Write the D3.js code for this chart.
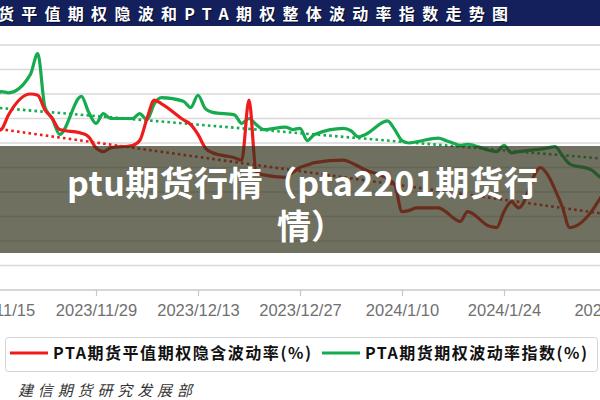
<!DOCTYPE html>
<html>
<head>
<meta charset="utf-8">
<script src="https://cdn.jsdelivr.net/npm/d3@7"></script>
<style>
  body { margin: 0; background: #fff; }
  svg { display: block; }
</style>
</head>
<body>
<div id="chart"></div>
<script>
// data (trading days)
const dates = [
  '2023-11-15', '2023-11-16', '2023-11-17', '2023-11-20', '2023-11-21', '2023-11-22',
  '2023-11-23', '2023-11-24', '2023-11-27', '2023-11-28', '2023-11-29', '2023-11-30',
  '2023-12-01', '2023-12-04', '2023-12-05', '2023-12-06', '2023-12-07', '2023-12-08',
  '2023-12-11', '2023-12-12', '2023-12-13', '2023-12-14', '2023-12-15', '2023-12-18',
  '2023-12-19', '2023-12-20', '2023-12-21', '2023-12-22', '2023-12-25', '2023-12-26',
  '2023-12-27', '2023-12-28', '2023-12-29', '2024-01-02', '2024-01-03', '2024-01-04',
  '2024-01-05', '2024-01-08', '2024-01-09', '2024-01-10', '2024-01-11', '2024-01-12',
  '2024-01-15', '2024-01-16', '2024-01-17', '2024-01-18', '2024-01-19', '2024-01-22',
  '2024-01-23', '2024-01-24', '2024-01-25', '2024-01-26', '2024-01-29', '2024-01-30',
  '2024-01-31', '2024-02-01', '2024-02-02', '2024-02-05', '2024-02-06', '2024-02-07'
]
// PTA期货平值期权隐含波动率
const ivValues = [
  22.9, 23.1, 24.3, 26.0, 25.9, 24.7, 24.0, 23.1, 22.8, 22.5, 21.6, 21.3,
  21.6, 21.8, 22.2, 24.0, 25.5, 25.2, 23.9, 23.5, 22.7, 21.6, 21.2, 20.8,
  20.6, 25.5, 19.6, 19.4, 19.2, 19.6, 20.0, 20.2, 20.4,
  20.6, 20.4, 20.1, 19.8, 19.1, 18.6, 16.4, 16.5, 16.7, 16.7, 16.4, 15.9,
  15.6, 16.4, 15.2, 15.1, 16.4, 17.2, 16.7, 20.0, 19.4, 18.2,
  16.8, 15.1, 16.4, 17.3, 18.2
]
// PTA期货期权波动率指数
const indexValues = [
  25.1, 26.2, 26.1, 27.6, 29.3, 24.9, 24.0, 22.7, 25.8, 24.5, 23.6, 24.4,
  24.0, 24.0, 24.4, 23.9, 25.2, 25.7, 25.4, 24.9, 25.9, 24.8, 24.5, 24.3,
  23.6, 24.0, 23.5, 23.1, 23.3, 23.1, 23.2, 22.2, 22.7,
  23.2, 23.0, 22.5, 22.7, 23.8, 23.1, 22.2, 22.0, 22.1, 22.4, 22.2, 22.0,
  21.8, 21.9, 21.4, 21.3, 21.8, 21.2, 21.3, 21.5, 21.6, 21.7,
  21.0, 20.3, 19.8, 19.3, 19.0
]
// linear trend lines (end points)
const trendDates = ['2023-11-15', '2024-02-07']
const ivTrend = [23.2, 16.2]
const indexTrend = [24.9, 20.7]

const xTicks = ['2023-11-15', '2023-11-29', '2023-12-13', '2023-12-27', '2024-01-10', '2024-01-24', '2024-02-07']
const yTicks = [10, 12, 14, 16, 18, 20, 22, 24, 26, 28, 30]
const seriesNames = ['PTA期货平值期权隐含波动率(%)', 'PTA期货期权波动率指数(%)']
const seriesColors = ['#ee1c1c', '#17ab50']

const W = 600
const H = 400
const parse = d3.timeParse('%Y-%m-%d')
const fmt = d3.timeFormat('%Y/%-m/%-d')

const svg = d3.select('#chart').append('svg')
  .attr('width', W)
  .attr('height', H)
  .style('font-family', '"Noto Sans CJK SC", "Liberation Sans", sans-serif')

// the plot runs off both sides of the picture
const x = d3.scaleTime()
  .domain([parse('2023-11-29'), parse('2024-02-07')])
  .range([96, 606])
const y = d3.scaleLinear()
  .domain([10, 30])
  .range([290, 45])

// gridlines
svg.append('g')
  .selectAll('line')
  .data(yTicks.slice(1))
  .join('line')
  .attr('x1', 0)
  .attr('x2', W)
  .attr('y1', d => y(d))
  .attr('y2', d => y(d))
  .attr('stroke', '#d9d9d9')
  .attr('stroke-width', 1.5)

// x axis
const xAxis = d3.axisBottom(x)
  .tickValues(xTicks.map(parse))
  .tickFormat(fmt)
  .tickSizeInner(6)
  .tickSizeOuter(0)
  .tickPadding(8)
const gx = svg.append('g')
  .attr('transform', 'translate(0,' + y(10) + ')')
  .call(xAxis)
gx.select('.domain').remove()
gx.insert('line', ':first-child')
  .attr('x1', 0)
  .attr('x2', W)
  .attr('stroke', '#c8c8c8')
  .attr('stroke-width', 1.5)
gx.selectAll('.tick line').attr('stroke', '#c8c8c8').attr('stroke-width', 1.2)
gx.selectAll('.tick text')
  .attr('fill', '#707070')
  .style('font-family', '"Liberation Sans", Arial, sans-serif')
  .style('font-size', '16.5px')

// lines
const line = d3.line()
  .x((d, i) => x(parse(dates[i])))
  .y(d => y(d))
  .curve(d3.curveMonotoneX)
const trend = d3.line()
  .x((d, i) => x(parse(trendDates[i])))
  .y(d => y(d))

svg.append('path')
  .datum(indexTrend)
  .attr('fill', 'none')
  .attr('stroke', seriesColors[1])
  .attr('stroke-width', 2.6)
  .attr('stroke-dasharray', '2.6 3.2')
  .attr('d', trend)
svg.append('path')
  .datum(ivTrend)
  .attr('fill', 'none')
  .attr('stroke', seriesColors[0])
  .attr('stroke-width', 2.6)
  .attr('stroke-dasharray', '2.6 3.2')
  .attr('d', trend)

svg.append('path')
  .datum(indexValues)
  .attr('fill', 'none')
  .attr('stroke', seriesColors[1])
  .attr('stroke-width', 3.2)
  .attr('stroke-linejoin', 'round')
  .attr('d', line)
svg.append('path')
  .datum(ivValues)
  .attr('fill', 'none')
  .attr('stroke', seriesColors[0])
  .attr('stroke-width', 3.2)
  .attr('stroke-linejoin', 'round')
  .attr('d', line)

// title bar
svg.append('rect')
  .attr('x', 0)
  .attr('y', 0)
  .attr('width', W)
  .attr('height', 26)
  .attr('fill', '#13205c')
const title = '货平值期权隐波和PTA期权整体波动率指数走势图'
svg.append('text')
  .attr('x', -2)
  .attr('y', 20)
  .attr('textLength', 510)
  .attr('fill', '#000')
  .attr('opacity', 0.6)
  .attr('transform', 'translate(1,1)')
  .style('font-size', '16px')
  .style('font-weight', 700)
  .text(title)
svg.append('text')
  .attr('x', -2)
  .attr('y', 20)
  .attr('textLength', 510)
  .attr('fill', '#fff')
  .style('font-size', '16px')
  .style('font-weight', 700)
  .text(title)

// legend
const legend = svg.append('g')
legend.append('rect')
  .attr('x', 5.5)
  .attr('y', 337.5)
  .attr('width', 592)
  .attr('height', 34)
  .attr('rx', 3)
  .attr('fill', '#fff')
  .attr('stroke', '#d4d4d4')
const legendX = [10, 322]
const legendW = [258, 222]
seriesNames.forEach((name, i) => {
  legend.append('line')
    .attr('x1', legendX[i])
    .attr('x2', legendX[i] + 38)
    .attr('y1', 353)
    .attr('y2', 353)
    .attr('stroke', seriesColors[i])
    .attr('stroke-width', 3.2)
  legend.append('text')
    .attr('x', legendX[i] + 43)
    .attr('y', 359)
    .attr('textLength', legendW[i])
    .attr('fill', '#111')
    .style('font-size', '16px')
    .style('font-weight', 700)
    .text(name)
})

// source
svg.append('text')
  .attr('x', 18)
  .attr('y', 396)
  .attr('textLength', 174)
  .attr('fill', '#333')
  .style('font-size', '15px')
  .style('font-style', 'italic')
  .text('建信期货研究发展部')

// overlay banner
svg.append('rect')
  .attr('x', 0)
  .attr('y', 146)
  .attr('width', W)
  .attr('height', 107)
  .attr('fill', 'rgb(50,51,28)')
  .attr('opacity', 0.7)
const banner = ['ptu期货行情（pta2201期货行', '情）']
const bannerX = [67, 277]
svg.append('g')
  .selectAll('text')
  .data(banner)
  .join('text')
  .attr('x', (d, i) => bannerX[i])
  .attr('y', (d, i) => 196 + i * 43)
  .attr('textLength', (d, i) => i === 0 ? 471 : null)
  .attr('fill', '#fff')
  .style('font-size', '34px')
  .style('font-weight', 700)
  .text(d => d)
</script>
</body>
</html>
